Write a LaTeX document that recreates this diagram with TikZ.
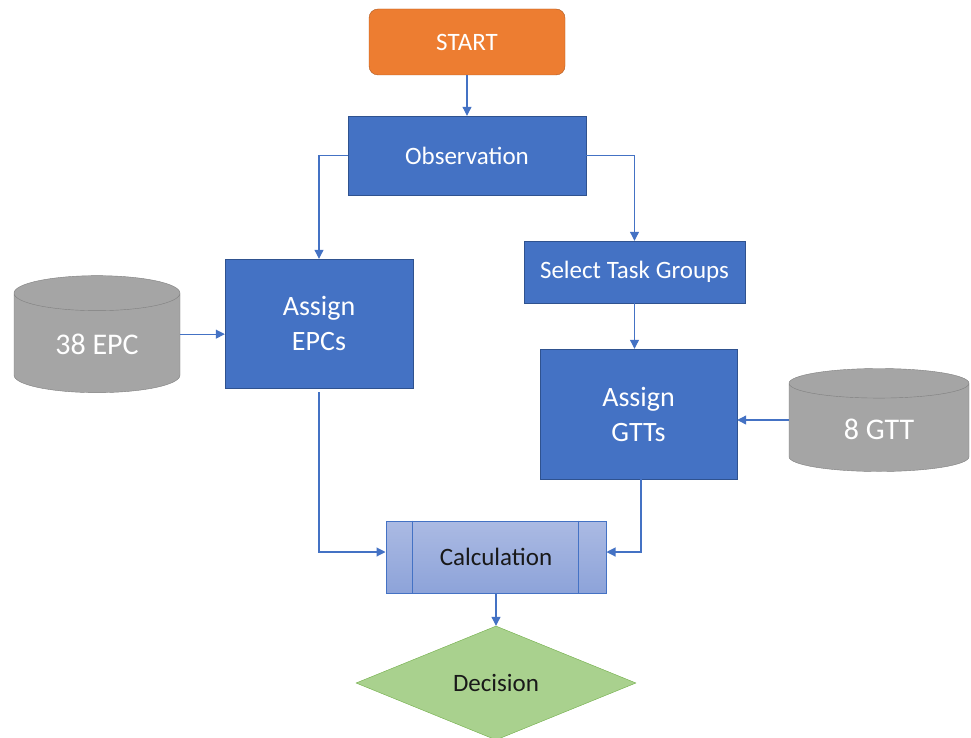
\documentclass[tikz,border=0pt]{standalone}
\usepackage{fontspec}
\setmainfont{Carlito}
\usepackage{tikz}
\usetikzlibrary{shapes.geometric, arrows.meta}

\definecolor{officeBlue}{HTML}{4472C4}
\definecolor{officeBlueDark}{HTML}{2F528F}
\definecolor{officeOrange}{HTML}{ED7D31}
\definecolor{officeOrangeDark}{HTML}{AE5A21}
\definecolor{officeGray}{HTML}{A5A5A5}
\definecolor{officeGrayDark}{HTML}{7F7F7F}
\definecolor{officeGreen}{HTML}{A9D18E}
\definecolor{officeGreenDark}{HTML}{70AD47}
\definecolor{calcTop}{HTML}{ABBAE3}
\definecolor{calcBottom}{HTML}{8DA3D9}

\begin{document}
\begin{tikzpicture}[node distance=113.5pt]
	\tikzstyle{startbox} = [rectangle, rounded corners=9pt, minimum width=196pt, 
	minimum height=66pt, text centered, draw=officeOrangeDark, fill=officeOrange, 
	text=white, font=\fontsize{25pt}{30pt}\selectfont]
	\tikzstyle{process} = [rectangle, minimum width=238pt, minimum height=79pt, 
	text centered, draw=officeBlueDark, fill=officeBlue, text=white, 
	font=\fontsize{25pt}{30pt}\selectfont]
	\tikzstyle{assign} = [process, align=center, font=\fontsize{28pt}{35pt}\selectfont]
	\tikzstyle{database} = [cylinder, shape border rotate=90, aspect=0.42, 
	draw=officeGrayDark, fill=officeGray, text=white, inner sep=0pt, 
	text height=23pt, text depth=0pt, font=\fontsize{30pt}{36pt}\selectfont]
	\tikzstyle{calc} = [rectangle, minimum width=220pt, minimum height=72pt, 
	draw=officeBlue, line width=1pt, top color=calcTop, bottom color=calcBottom, 
	text=black!90, font=\fontsize{25pt}{30pt}\selectfont]
	\tikzstyle{decision} = [diamond, minimum width=280pt, minimum height=114pt, 
	inner sep=0pt, draw=officeGreenDark, fill=officeGreen, text=black!90, 
	font=\fontsize{25pt}{30pt}\selectfont]
	\tikzstyle{arrow} = [line width=1.1pt, draw=officeBlue, 
	-{Triangle[length=9pt, width=9pt]}]
	\useasboundingbox (0,0) rectangle (971pt,-738pt);
	\node (start) [startbox] at (467pt,-42pt) {START};
	\node (observation) [process, below of=start] {Observation};
	\node (assignEPC) [assign, below of=observation, xshift=-148pt, yshift=-54.5pt, 
	minimum width=188pt, minimum height=129pt] {Assign\\EPCs};
	\node (selectTask) [process, below of=observation, xshift=167.5pt, yshift=-3pt, 
	minimum width=221pt, minimum height=62pt] {Select Task Groups};
	\node (assignGTT) [assign, below of=selectTask, xshift=4pt, yshift=-28.5pt, 
	minimum width=197pt, minimum height=130pt] {Assign\\GTTs};
	\node (epcDB) [database, left of=assignEPC, xshift=-108.5pt, yshift=-19.5pt, 
	minimum width=166pt, minimum height=117pt] {38 EPC};
	\node (gttDB) [database, right of=assignGTT, xshift=127pt, yshift=-13.5pt, 
	minimum width=180pt, minimum height=103pt] {8 GTT};
	\node (calculation) [calc, below of=assignGTT, xshift=-142.5pt, yshift=-29.5pt] 
	{Calculation};
	\node (decision) [decision, below of=calculation, yshift=-12.5pt] {Decision};
	\draw [officeBlue, line width=1pt] ([xshift=27pt]calculation.north west) 
	-- ([xshift=27pt]calculation.south west);
	\draw [officeBlue, line width=1pt] ([xshift=-28pt]calculation.north east) 
	-- ([xshift=-28pt]calculation.south east);
	\draw [arrow] (start) -- (observation);
	\draw [arrow] (observation.west) -| (assignEPC.north);
	\draw [arrow] (observation.east) -| (selectTask.north);
	\draw [arrow] (selectTask.south) -- (selectTask.south |- assignGTT.north);
	\draw [arrow] (epcDB.shape center -| epcDB.east) -- (epcDB.shape center -| assignEPC.west);
	\draw [arrow] (gttDB.shape center -| gttDB.west) -- (gttDB.shape center -| assignGTT.east);
	\draw [arrow, shorten <=4pt] (assignEPC.south) |- ([yshift=5pt]calculation.west);
	\draw [arrow] ([xshift=2.5pt]assignGTT.south) |- ([yshift=5pt]calculation.east);
	\draw [arrow] (calculation) -- (decision);
\end{tikzpicture}
\end{document}
